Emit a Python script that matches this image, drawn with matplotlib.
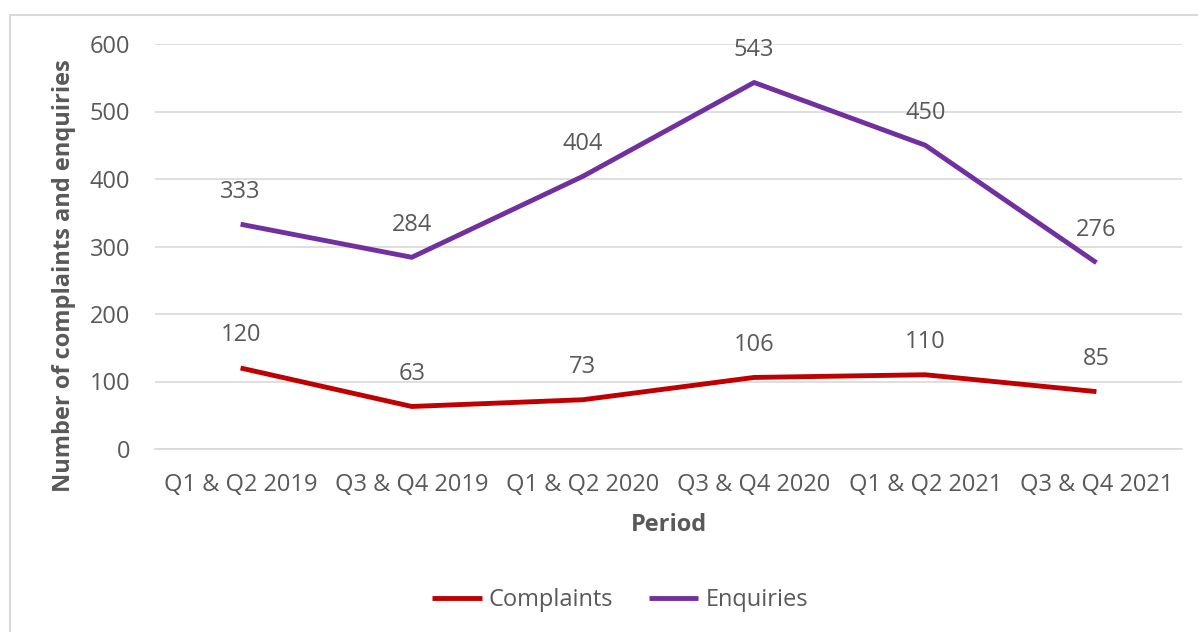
import matplotlib
matplotlib.use("Agg")
import matplotlib.pyplot as plt
from matplotlib.patches import Rectangle

periods = ["Q1 & Q2 2019", "Q3 & Q4 2019", "Q1 & Q2 2020", "Q3 & Q4 2020", "Q1 & Q2 2021", "Q3 & Q4 2021"]
complaints = [120, 63, 73, 106, 110, 85]
enquiries = [333, 284, 404, 543, 450, 276]
y_ticks = [0, 100, 200, 300, 400, 500, 600]

plt.rcParams['font.family'] = ['Open Sans', 'DejaVu Sans']
TXT = '#595959'
FS = 17

W, H = 1198, 632
fig = plt.figure(figsize=(W/100, H/100), dpi=100)
fig.patches.append(Rectangle((10/W, -0.1), 1.2, 1 - 15/H + 0.1, transform=fig.transFigure,
                             fill=False, edgecolor='#D9D9D9', linewidth=1.5))
ax = fig.add_axes([155/W, 1 - 449/H, (1182-155)/W, (449-44)/H])

x = list(range(len(periods)))
ax.plot(x, complaints, color='#C00000', lw=3.5, label='Complaints', solid_capstyle='butt')
ax.plot(x, enquiries, color='#7030A0', lw=3.5, label='Enquiries', solid_capstyle='butt')

for xi, v in zip(x, complaints):
    ax.annotate(str(v), (xi, v), xytext=(0, 23.5), textcoords='offset points',
                ha='center', va='center', fontsize=FS, color=TXT)
for xi, v in zip(x, enquiries):
    ax.annotate(str(v), (xi, v), xytext=(0, 23.5), textcoords='offset points',
                ha='center', va='center', fontsize=FS, color=TXT)

ax.set_xlim(-0.5, len(periods) - 0.5)
ax.set_ylim(0, 600)
ax.set_yticks(y_ticks)
ax.set_xticks(x)
ax.set_xticklabels(periods)
ax.grid(axis='y', color='#D9D9D9', lw=1.2)
ax.set_axisbelow(True)
for s in ax.spines.values():
    s.set_visible(False)
ax.spines['bottom'].set_visible(True)
ax.spines['bottom'].set_color('#D9D9D9')
ax.spines['bottom'].set_linewidth(1.2)
ax.tick_params(axis='both', length=0, labelsize=FS, labelcolor=TXT)
ax.tick_params(axis='x', pad=17)
ax.tick_params(axis='y', pad=18)

ax.set_xlabel('Period', fontsize=17, fontweight='bold', color=TXT, labelpad=12)
ax.set_ylabel('Number of complaints and enquiries', fontsize=17, fontweight='bold', color=TXT)
ax.yaxis.set_label_coords((76 - 155) / (1182 - 155), (449 - 276) / (449 - 44))

leg = fig.legend(loc='center', bbox_to_anchor=(620/W, 1 - 600/H), ncol=2, frameon=False,
                 fontsize=FS, handlelength=2.1, columnspacing=1.5, handletextpad=0.3)
for t in leg.get_texts():
    t.set_color(TXT)

fig.savefig('out.png', dpi=100)
